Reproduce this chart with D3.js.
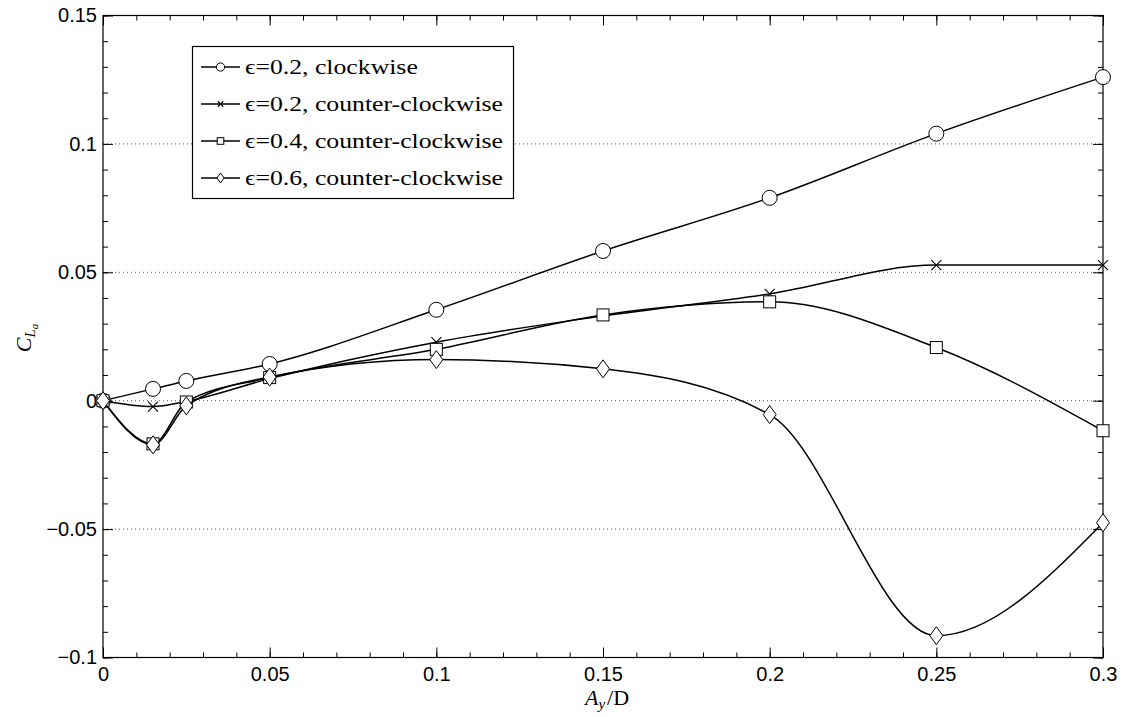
<!DOCTYPE html>
<html>
<head>
<meta charset="utf-8">
<script src="https://cdn.jsdelivr.net/npm/d3@7"></script>
<style>
  body { margin: 0; background: #fff; }
  svg { display: block; }
</style>
</head>
<body>
<svg id="chart"></svg>
<script>
// data
const xs = [0, 0.015, 0.025, 0.05, 0.1, 0.15, 0.2, 0.25, 0.3];
const cw02 = [0, 0.0046, 0.0077, 0.0143, 0.0354, 0.0583, 0.0790, 0.1040, 0.1260];
const ccw02 = [0, -0.0023, -0.0003, 0.0086, 0.0228, 0.0330, 0.0416, 0.0528, 0.0528];
const ccw04 = [0, -0.0168, -0.0005, 0.0090, 0.0200, 0.0334, 0.0385, 0.0207, -0.0117];
const ccw06 = [0, -0.0172, -0.0020, 0.0092, 0.0160, 0.0124, -0.0054, -0.0915, -0.0475];

const seriesNames = ["0.2, clockwise", "0.2, counter-clockwise", "0.4, counter-clockwise", "0.6, counter-clockwise"];
const seriesMarkers = ["circle", "cross", "square", "diamond"];
const seriesValues = [cw02, ccw02, ccw04, ccw06];

const xTicks = [0, 0.05, 0.1, 0.15, 0.2, 0.25, 0.3];
const xTickLabels = ["0", "0.05", "0.1", "0.15", "0.2", "0.25", "0.3"];
const yTicks = [-0.1, -0.05, 0, 0.05, 0.1, 0.15];
const yTickLabels = ["\u22120.1", "\u22120.05", "0", "0.05", "0.1", "0.15"];
const gridLevels = [-0.05, 0, 0.05, 0.1];

const width = 1130;
const height = 717;
const marginLeft = 103;
const marginRight = 27;
const marginTop = 15.5;
const marginBottom = 59.5;

const svg = d3.select("#chart")
  .attr("width", width)
  .attr("height", height)
  .attr("viewBox", [0, 0, width, height]);

const x = d3.scaleLinear().domain([0, 0.3]).range([marginLeft, width - marginRight]);
const y = d3.scaleLinear().domain([-0.1, 0.15]).range([height - marginBottom, marginTop]);

const sansFont = "'Liberation Sans', Arial, sans-serif";
const serifFont = "'Liberation Serif', 'Times New Roman', serif";

// dotted grid
svg.append("g")
  .selectAll("line")
  .data(gridLevels)
  .join("line")
  .attr("x1", marginLeft)
  .attr("x2", width - marginRight)
  .attr("y1", d => y(d))
  .attr("y2", d => y(d))
  .attr("stroke", "#555")
  .attr("stroke-width", 1)
  .attr("stroke-dasharray", "1,3");

// minor ticks (every 0.01)
const xMinor = d3.range(0, 0.3001, 0.01);
const yMinor = d3.range(-0.1, 0.1501, 0.01);

function styleAxis(g) {
  g.select(".domain").remove();
  g.selectAll(".tick line").attr("stroke", "#000");
  g.selectAll(".tick text")
    .attr("fill", "#000")
    .style("font-family", sansFont)
    .style("font-size", "20px");
}

svg.append("g")
  .attr("transform", `translate(0,${height - marginBottom})`)
  .call(d3.axisBottom(x).tickValues(xMinor).tickSize(-5).tickFormat(""))
  .call(styleAxis);
svg.append("g")
  .attr("transform", `translate(0,${marginTop})`)
  .call(d3.axisTop(x).tickValues(xMinor).tickSize(-5).tickFormat(""))
  .call(styleAxis);
svg.append("g")
  .attr("transform", `translate(${marginLeft},0)`)
  .call(d3.axisLeft(y).tickValues(yMinor).tickSize(-5).tickFormat(""))
  .call(styleAxis);
svg.append("g")
  .attr("transform", `translate(${width - marginRight},0)`)
  .call(d3.axisRight(y).tickValues(yMinor).tickSize(-5).tickFormat(""))
  .call(styleAxis);

// major ticks with labels
svg.append("g")
  .attr("transform", `translate(0,${height - marginBottom})`)
  .call(d3.axisBottom(x).tickValues(xTicks).tickSize(-10).tickPadding(9)
    .tickFormat((d, i) => xTickLabels[i]))
  .call(styleAxis);
svg.append("g")
  .attr("transform", `translate(0,${marginTop})`)
  .call(d3.axisTop(x).tickValues(xTicks).tickSize(-10).tickFormat(""))
  .call(styleAxis);
svg.append("g")
  .attr("transform", `translate(${marginLeft},0)`)
  .call(d3.axisLeft(y).tickValues(yTicks).tickSize(-10).tickPadding(6)
    .tickFormat((d, i) => yTickLabels[i]))
  .call(styleAxis);
svg.append("g")
  .attr("transform", `translate(${width - marginRight},0)`)
  .call(d3.axisRight(y).tickValues(yTicks).tickSize(-10).tickFormat(""))
  .call(styleAxis);

// box
svg.append("rect")
  .attr("x", marginLeft)
  .attr("y", marginTop)
  .attr("width", width - marginLeft - marginRight)
  .attr("height", height - marginTop - marginBottom)
  .attr("fill", "none")
  .attr("stroke", "#000")
  .attr("stroke-width", 1.2);

// markers
function drawMarker(g, type, cx, cy, s) {
  if (type === "circle") {
    g.append("circle").attr("cx", cx).attr("cy", cy).attr("r", 7.5 * s)
      .attr("fill", "#fff").attr("stroke", "#000").attr("stroke-width", 1);
  } else if (type === "cross") {
    const h = 5 * s;
    g.append("path")
      .attr("d", `M${cx - h},${cy - h}L${cx + h},${cy + h}M${cx - h},${cy + h}L${cx + h},${cy - h}`)
      .attr("fill", "none").attr("stroke", "#000").attr("stroke-width", 1.1);
  } else if (type === "square") {
    const h = 6 * s;
    g.append("rect").attr("x", cx - h).attr("y", cy - h).attr("width", 2 * h).attr("height", 2 * h)
      .attr("fill", "#fff").attr("stroke", "#000").attr("stroke-width", 1);
  } else if (type === "diamond") {
    const hw = 6.5 * s, hh = 9 * s;
    g.append("path")
      .attr("d", `M${cx},${cy - hh}L${cx + hw},${cy}L${cx},${cy + hh}L${cx - hw},${cy}Z`)
      .attr("fill", "#fff").attr("stroke", "#000").attr("stroke-width", 1);
  }
}

const line = d3.line()
  .x(d => x(d[0]))
  .y(d => y(d[1]))
  .curve(d3.curveMonotoneX);

seriesValues.forEach((vals, k) => {
  const pts = xs.map((xv, i) => [xv, vals[i]]);
  const g = svg.append("g");
  g.append("path")
    .datum(pts)
    .attr("fill", "none")
    .attr("stroke", "#000")
    .attr("stroke-width", 1.5)
    .attr("d", line);
  pts.forEach(p => drawMarker(g, seriesMarkers[k], x(p[0]), y(p[1]), 1));
});

// legend
const legend = svg.append("g");
legend.append("rect")
  .attr("x", 192.5)
  .attr("y", 46.5)
  .attr("width", 321)
  .attr("height", 152)
  .attr("fill", "#fff")
  .attr("stroke", "#000")
  .attr("stroke-width", 1.2);

const legendTexts = [];
seriesNames.forEach((name, k) => {
  const cy = 67 + k * 37;
  legend.append("line")
    .attr("x1", 201).attr("x2", 240)
    .attr("y1", cy).attr("y2", cy)
    .attr("stroke", "#000").attr("stroke-width", 1.5);
  drawMarker(legend, seriesMarkers[k], 220.5, cy, 0.55);
  legendTexts.push(legend.append("text")
    .attr("x", 245)
    .attr("y", cy + 7)
    .style("font-family", serifFont)
    .style("font-size", "22px")
    .text("\u03F5=" + name));
});
// stretch legend text to the wider TeX-like width of the reference
const longest = d3.max(legendTexts, t => t.node().getComputedTextLength());
const stretch = 258 / longest;
legendTexts.forEach(t => {
  const w = t.node().getComputedTextLength();
  t.attr("textLength", w * stretch).attr("lengthAdjust", "spacingAndGlyphs");
});

// axis labels
const xl = svg.append("text")
  .attr("x", 607)
  .attr("y", 705)
  .attr("text-anchor", "middle")
  .style("font-family", serifFont)
  .style("font-size", "22px");
xl.append("tspan").style("font-style", "italic").text("A");
xl.append("tspan").style("font-style", "italic").style("font-size", "15px").attr("dy", 4).text("y");
xl.append("tspan").attr("dy", -4).attr("dx", 2).text("/D");

const yl = svg.append("text")
  .attr("transform", "translate(31,338) rotate(-90)")
  .attr("text-anchor", "middle")
  .style("font-family", serifFont)
  .style("font-size", "22px");
yl.append("tspan").style("font-style", "italic").text("C");
yl.append("tspan").style("font-style", "italic").style("font-size", "15px").attr("dy", 4).text("L");
yl.append("tspan").style("font-style", "italic").style("font-size", "11px").attr("dy", 3).text("a");
</script>
</body>
</html>
